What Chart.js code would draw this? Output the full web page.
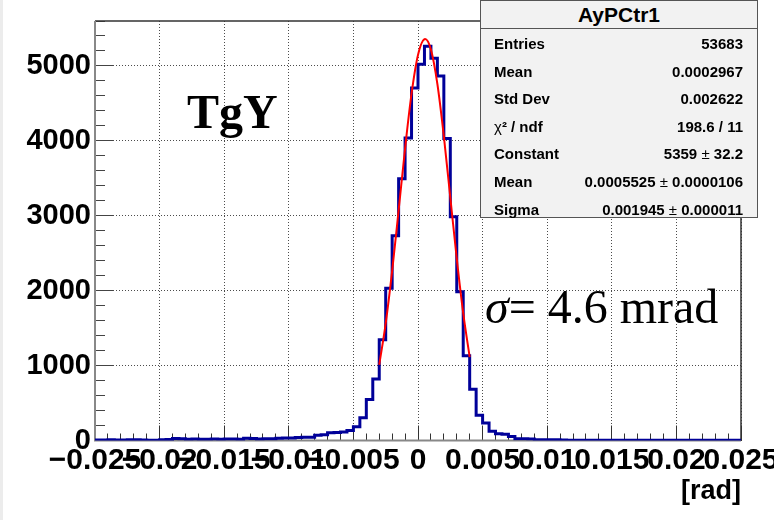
<!DOCTYPE html>
<html lang="en">
<head>
  <meta charset="UTF-8">
  <title>AyPCtr1</title>
  <script src="https://cdn.jsdelivr.net/npm/chart.js@4"></script>
  <style>
    body { margin: 0; background: #fff; overflow: hidden; }
    #wrap { position: relative; width: 774px; height: 520px; }
    #edge { position: absolute; left: 0; top: 0; width: 3px; height: 520px; background: #ececec; }
    #stats {
      position: absolute; left: 480px; top: 0; width: 276px; height: 216px;
      background: #f2f2f2; border: 1px solid #555;
      font-family: "Liberation Sans", Arial, sans-serif; font-weight: bold; color: #000;
    }
    #stats .title { height: 27px; line-height: 27px; text-align: center; font-size: 21px; border-bottom: 1px solid #555; }
    #stats .rows { position: absolute; left: 13px; right: 14px; top: 29px; }
    #stats .row { display: flex; justify-content: space-between; font-size: 15px; line-height: 27.6px; height: 27.6px; }
    #stats .pm { font-weight: normal; }
    .label { position: absolute; font-family: "Liberation Serif", "Times New Roman", serif; font-size: 48px; line-height: 48px; color: #000; white-space: nowrap; }
  </style>
</head>
<body>
<div id="wrap">
  <canvas id="histChart" width="774" height="520"></canvas>
  <div id="edge"></div>
  <div class="label" style="left:187px; top:88px; font-weight:bold;">TgY</div>
  <div class="label" style="left:485px; top:283px;"><i>σ</i>= 4.6 mrad</div>
  <div id="stats">
    <div class="title">AyPCtr1</div>
    <div class="rows">
      <div class="row"><span>Entries</span><span>53683</span></div>
      <div class="row"><span>Mean</span><span>0.0002967</span></div>
      <div class="row"><span>Std Dev</span><span>0.002622</span></div>
      <div class="row"><span><span class="pm">χ</span>² / ndf</span><span>198.6 / 11</span></div>
      <div class="row"><span>Constant</span><span>5359 <span class="pm">±</span> 32.2</span></div>
      <div class="row"><span>Mean</span><span>0.0005525 <span class="pm">±</span> 0.0000106</span></div>
      <div class="row"><span>Sigma</span><span>0.001945 <span class="pm">±</span> 0.000011</span></div>
    </div>
  </div>
</div>

<script>
  // histogram binning
  const histMin = -0.025;
  const histMax = 0.025;
  const binWidth = 0.0005;

  // bin contents, left to right (100 bins)
  const counts = [
    8, 6, 9, 7, 8, 10, 9, 7, 2, 3,
    11, 13, 26, 24, 17, 19, 16, 18, 20, 17,
    19, 21, 18, 29, 27, 21, 23, 22, 31, 35,
    33, 40, 44, 45, 70, 76, 102, 106, 114, 134,
    184, 303, 548, 821, 1345, 2033, 2734, 3493, 4039, 4705,
    5024, 5264, 5104, 4865, 4030, 2987, 1985, 1132, 684, 338,
    234, 122, 89, 85, 53, 25, 22, 21, 11, 10,
    9, 10, 8, 3, 4, 2, 3, 4, 3, 2,
    3, 3, 4, 2, 3, 2, 3, 4, 2, 3,
    3, 2, 4, 3, 2, 3, 2, 3, 2, 3
  ];

  // gaussian fit curve
  const fitX = [-0.003, -0.0025, -0.002, -0.0015, -0.001, -0.0005, 0, 0.00055, 0.001, 0.0015, 0.002, 0.0025, 0.003, 0.0035, 0.004];
  const fitY = [1011, 1564, 2265, 3071, 3897, 4629, 5147, 5359, 5219, 4759, 4063, 3246, 2428, 1700, 1114];

  // axes
  const xTickValues = [-0.025, -0.02, -0.015, -0.01, -0.005, 0, 0.005, 0.01, 0.015, 0.02, 0.025];
  const xTickLabels = ['\u22120.025', '\u22120.02', '\u22120.015', '\u22120.01', '\u22120.005', '0', '0.005', '0.01', '0.015', '0.02', '0.025'];
  const yTickValues = [0, 1000, 2000, 3000, 4000, 5000];
  const yTickLabels = ['0', '1000', '2000', '3000', '4000', '5000'];
  const yMax = 5600;
  const xMinorStep = 0.001;
  const yMinorStep = 200;

  const xMinorTicks = [];
  for (let i = 0; i <= Math.round((histMax - histMin) / xMinorStep); i++) xMinorTicks.push(histMin + i * xMinorStep);
  const yMinorTicks = [];
  for (let v = 0; v <= yMax; v += yMinorStep) yMinorTicks.push(v);

  // step outline: one point per low edge, plus closing edge
  const histPoints = counts.map((c, i) => ({ x: histMin + i * binWidth, y: c }));
  histPoints.push({ x: histMax, y: counts[counts.length - 1] });
  const fitPoints = fitX.map((x, i) => ({ x: x, y: fitY[i] }));

  const sansBold = { family: '"Liberation Sans", Arial, sans-serif', weight: 'bold' };

  // ROOT style frame behind the histogram
  const framePlugin = {
    id: 'frame',
    beforeDatasetsDraw(chart) {
      const { ctx, chartArea: a } = chart;
      ctx.save();
      ctx.lineWidth = 1.5;
      ctx.strokeStyle = '#333';
      ctx.beginPath();
      ctx.moveTo(a.left, a.top); ctx.lineTo(a.right, a.top); ctx.lineTo(a.right, a.bottom);
      ctx.stroke();
      ctx.lineWidth = 2;
      ctx.strokeStyle = '#888';
      ctx.beginPath();
      ctx.moveTo(a.left, a.top); ctx.lineTo(a.left, a.bottom); ctx.lineTo(a.right, a.bottom);
      ctx.stroke();
      ctx.restore();
    }
  };

  const ctx = document.getElementById('histChart').getContext('2d');
  new Chart(ctx, {
    type: 'line',
    data: {
      datasets: [
        {
          label: 'fit',
          data: fitPoints,
          borderColor: '#ff0000',
          borderWidth: 2,
          pointRadius: 0,
          cubicInterpolationMode: 'monotone',
          fill: false,
          order: 0
        },
        {
          label: 'AyPCtr1',
          data: histPoints,
          borderColor: '#000099',
          borderWidth: 3,
          stepped: 'before',
          pointRadius: 0,
          fill: false,
          order: 1
        }
      ]
    },
    options: {
      responsive: false,
      animation: false,
      events: [],
      layout: { padding: { top: 21, right: 33, left: 0, bottom: 0 } },
      plugins: { legend: { display: false }, tooltip: { enabled: false } },
      scales: {
        x: {
          type: 'linear', position: 'bottom', weight: 1,
          min: histMin, max: histMax,
          afterBuildTicks: s => { s.ticks = xTickValues.map(v => ({ value: v })); },
          afterFit: s => { s.height = 79.5; s.paddingLeft = 0; s.paddingRight = 0; },
          ticks: {
            autoSkip: false, maxRotation: 0, minRotation: 0, padding: 17, color: '#000',
            font: Object.assign({ size: 30 }, sansBold),
            callback: (v, i) => xTickLabels[i]
          },
          grid: { color: 'rgba(0,0,0,0.7)', lineWidth: 1, tickLength: -15, tickColor: '#333', tickBorderDash: [], tickWidth: 1 },
          border: { display: false, dash: [1, 2] },
          title: { display: true, text: '[rad]', align: 'end', color: '#000', font: Object.assign({ size: 27 }, sansBold), padding: { top: 0, bottom: 12 } }
        },
        xMinor: {
          type: 'linear', position: 'bottom', weight: 0,
          min: histMin, max: histMax,
          afterBuildTicks: s => { s.ticks = xMinorTicks.map(v => ({ value: v })); },
          afterFit: s => { s.height = 0; s.paddingLeft = 0; s.paddingRight = 0; },
          ticks: { display: false },
          grid: { drawOnChartArea: false, tickLength: -7, tickColor: '#333', tickWidth: 1 },
          border: { display: false }
        },
        y: {
          type: 'linear', position: 'left', weight: 1,
          min: 0, max: yMax,
          afterBuildTicks: s => { s.ticks = yTickValues.map(v => ({ value: v })); },
          afterFit: s => { s.width = 95; s.paddingTop = 0; s.paddingBottom = 0; },
          ticks: {
            padding: 22, color: '#000',
            font: Object.assign({ size: 29 }, sansBold),
            callback: (v, i) => yTickLabels[i]
          },
          grid: { color: 'rgba(0,0,0,0.7)', lineWidth: 1, tickLength: -18, tickColor: '#444', tickBorderDash: [], tickWidth: 1 },
          border: { display: false, dash: [1, 2] }
        },
        yMinor: {
          type: 'linear', position: 'left', weight: 0,
          min: 0, max: yMax,
          afterBuildTicks: s => { s.ticks = yMinorTicks.map(v => ({ value: v })); },
          afterFit: s => { s.width = 0; s.paddingTop = 0; s.paddingBottom = 0; },
          ticks: { display: false },
          grid: { drawOnChartArea: false, tickLength: -10, tickColor: '#444', tickWidth: 1 },
          border: { display: false }
        }
      }
    },
    plugins: [framePlugin]
  });
</script>
</body>
</html>
